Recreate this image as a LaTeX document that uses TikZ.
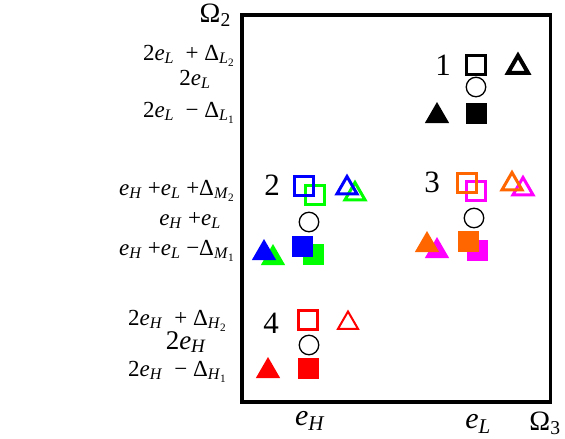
\documentclass[tikz,border=0pt]{standalone}
\usepackage{fontspec}
\setmainfont{Liberation Serif}
\usetikzlibrary{shapes.geometric}
\definecolor{lvblue}{RGB}{0,0,255}
\definecolor{lvgreen}{RGB}{0,255,0}
\definecolor{lvorange}{RGB}{255,102,0}
\definecolor{lvmagenta}{RGB}{255,0,255}
\definecolor{lvred}{RGB}{255,0,0}
\newcommand{\eH}{\textit{e}\textsubscript{\textit{H}}}
\newcommand{\eL}{\textit{e}\textsubscript{\textit{L}}}
\newcommand{\dlt}[2]{Δ\textsubscript{\textit{#1}\textsubscript{#2}}}
\newcommand{\fs}[1]{\fontsize{#1}{#1}\selectfont}

\begin{document}
\begin{tikzpicture}[x=1pt, y=-1pt]
    \tikzset{osq/.style={rectangle, draw, line width=2.5pt, minimum size=19pt, inner sep=0pt},
             fsq/.style={rectangle, fill, minimum size=21pt, inner sep=0pt},
             otri/.style={regular polygon, regular polygon sides=3, draw, line width=3pt,
                          minimum size=23pt, inner sep=0pt},
             ftri/.style={regular polygon, regular polygon sides=3, fill, minimum size=28pt, inner sep=0pt},
             ring/.style={circle, draw, line width=1.3pt, minimum size=19.5pt, inner sep=0pt},
             lbl/.style={font=\fs{23}, inner sep=0pt, anchor=base east},
             mid/.style={font=\fs{23}, inner sep=0pt, anchor=base},
             num/.style={font=\fs{31}, inner sep=0pt, anchor=base}}
    \useasboundingbox (0,0) rectangle (565,439);
    \draw[line width=3.5pt] (242,15) rectangle (550.5,402);

    % axis labels
    \node[font=\fs{28}, inner sep=0pt, anchor=base east] (om2) at (231,22) {Ω\textsubscript{2}};
    \node[font=\fs{30}, inner sep=0pt, anchor=base] (xh) at (310,425) {\eH};
    \node[font=\fs{30}, inner sep=0pt, anchor=base] (xl) at (478,428) {\eL};
    \node[font=\fs{28}, inner sep=0pt, anchor=base] (om3) at (545,430) {Ω\textsubscript{3}};

    % level labels
    \node[lbl] (l1a) at (235,60) {2\eL\ \ + \dlt{L}{2}};
    \node[mid] (l1b) at (195,85) {2\eL};
    \node[lbl] (l1c) at (235,117) {2\eL\ \ − \dlt{L}{1}};
    \node[lbl] (l2a) at (235,195) {\eH\ +\eL\ +\dlt{M}{2}};
    \node[mid] (l2b) at (190,225) {\eH\ +\eL};
    \node[lbl] (l2c) at (235,255) {\eH\ +\eL\ −\dlt{M}{1}};
    \node[lbl] (l4a) at (227,325) {2\eH\ \ + \dlt{H}{2}};
    \node[mid, font=\fs{27}] (l4b) at (186,349) {2\eH};
    \node[lbl] (l4c) at (227,376) {2\eH\ \ − \dlt{H}{1}};

    % group 1
    \node[num] (n1) at (443,75) {1};
    \node[osq] (sq1o) at (476,65) {};
    \node[otri, line width=4pt] (tri1o) at (518,67) {};
    \node[ring] (c1) at (476,87) {};
    \node[ftri] (tri1f) at (437,116) {};
    \node[fsq] (sq1f) at (476,113) {};

    % group 2
    \node[num] (n2) at (272,195) {2};
    \node[osq, draw=lvgreen] (sq2og) at (315,195) {};
    \node[osq, draw=lvblue] (sq2ob) at (304,186) {};
    \node[otri, draw=lvgreen] (tri2og) at (355,194) {};
    \node[otri, draw=lvblue] (tri2ob) at (347,188) {};
    \node[ring] (c2) at (309,222) {};
    \node[ftri, fill=lvgreen] (tri2fg) at (273,258) {};
    \node[ftri, fill=lvblue] (tri2fb) at (264,253) {};
    \node[fsq, fill=lvgreen] (sq2fg) at (313,254) {};
    \node[fsq, fill=lvblue] (sq2fb) at (302,246) {};

    % group 3
    \node[num] (n3) at (432,192) {3};
    \node[osq, draw=lvmagenta] (sq3om) at (476,191) {};
    \node[osq, draw=lvorange] (sq3oo) at (467,183) {};
    \node[otri, draw=lvmagenta] (tri3om) at (523,189) {};
    \node[otri, draw=lvorange] (tri3oo) at (512,184) {};
    \node[ring] (c3) at (474,218) {};
    \node[ftri, fill=lvmagenta] (tri3fm) at (437,251) {};
    \node[ftri, fill=lvorange] (tri3fo) at (427,245) {};
    \node[fsq, fill=lvmagenta] (sq3fm) at (477,250) {};
    \node[fsq, fill=lvorange] (sq3fo) at (468,241) {};

    % group 4
    \node[num] (n4) at (271,333) {4};
    \node[osq, draw=lvred, line width=3pt] (sq4o) at (308,320) {};
    \node[otri, draw=lvred, line width=2pt] (tri4o) at (348,323) {};
    \node[ring] (c4) at (309,345) {};
    \node[ftri, fill=lvred] (tri4f) at (268,371) {};
    \node[fsq, fill=lvred] (sq4f) at (308,368) {};
\end{tikzpicture}
\end{document}
